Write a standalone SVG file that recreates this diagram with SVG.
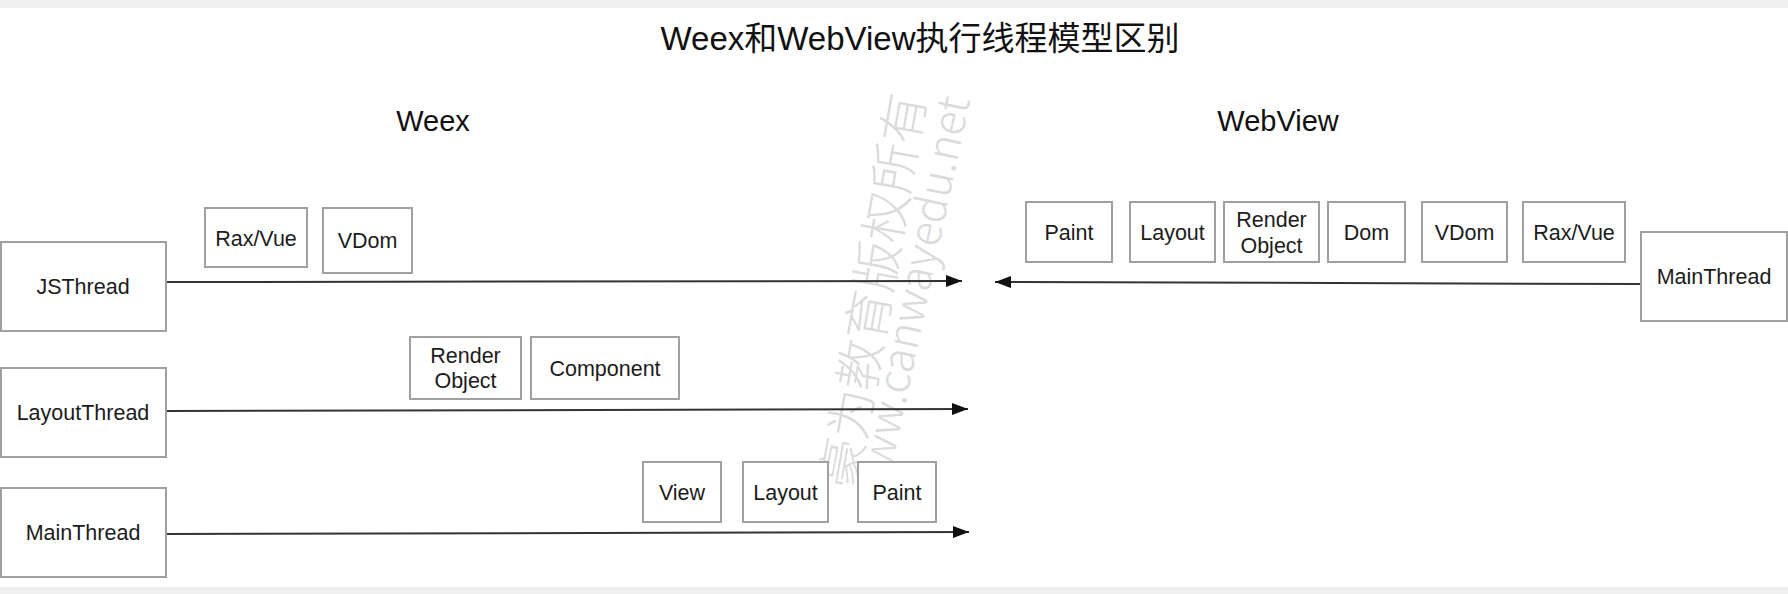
<svg xmlns="http://www.w3.org/2000/svg" width="1788" height="594" viewBox="0 0 1788 594">
<style>
  .box { fill: #ffffff; stroke: #a0a0a0; stroke-width: 2; }
  .lbl { font-family: "Liberation Sans", Arial, "Noto Sans CJK SC", sans-serif; font-size: 21.5px; fill: #1c1c1c; text-anchor: middle; }
  .head { font-family: "Liberation Sans", Arial, "Noto Sans CJK SC", sans-serif; fill: #111; text-anchor: middle; }
  .flow { stroke: #333; stroke-width: 2; fill: none; marker-end: url(#arrow); }
  .wm { font-family: "Noto Sans CJK SC", "Noto Sans", sans-serif; fill: #d8d8d8; text-anchor: middle; font-weight: 300; }
</style>
<defs>
  <marker id="arrow" viewBox="0 0 16 12" refX="16" refY="6" markerWidth="16" markerHeight="12" markerUnits="userSpaceOnUse" orient="auto">
    <path d="M0,0 L16,6 L0,12 Z" fill="#111"/>
  </marker>
</defs>
<rect x="0" y="0" width="1788" height="594" fill="#ffffff"/>
<rect x="0" y="0" width="1788" height="8" fill="#f0f0f0"/>
<rect x="0" y="587" width="1788" height="7" fill="#f0f0f0"/>

<text class="head" x="920" y="50" font-size="33">Weex和WebView执行线程模型区别</text>
<text class="head" x="433" y="131" font-size="29">Weex</text>
<text class="head" x="1278" y="131" font-size="29">WebView</text>

<g id="watermark" opacity="0.9">
  <text class="wm" font-size="50" transform="translate(891,294) rotate(-80)">豪为教育版权所有</text>
  <text class="wm" font-size="44" transform="translate(927,302) rotate(-78)">www.canwayedu.net</text>
</g>

<g id="connectors">
  <line class="flow" x1="166" y1="282" x2="962" y2="281"/>
  <line class="flow" x1="166" y1="411" x2="968" y2="409"/>
  <line class="flow" x1="166" y1="534" x2="969" y2="532"/>
  <line class="flow" x1="1641" y1="284" x2="995" y2="282"/>
</g>

<g id="weex-jsthread"><rect class="box" x="1" y="242" width="165" height="89"/><text class="lbl" x="83" y="294">JSThread</text></g>
<g id="weex-layoutthread"><rect class="box" x="1" y="368" width="165" height="89"/><text class="lbl" x="83" y="420">LayoutThread</text></g>
<g id="weex-mainthread"><rect class="box" x="1" y="488" width="165" height="89"/><text class="lbl" x="83" y="540">MainThread</text></g>
<g id="weex-raxvue"><rect class="box" x="205" y="208" width="102" height="59"/><text class="lbl" x="256" y="246">Rax/Vue</text></g>
<g id="weex-vdom"><rect class="box" x="323" y="208" width="89" height="65"/><text class="lbl" x="367.5" y="248">VDom</text></g>
<g id="weex-renderobject"><rect class="box" x="410" y="337" width="111" height="62"/><text class="lbl" x="465.5" y="363">Render</text><text class="lbl" x="465.5" y="388">Object</text></g>
<g id="weex-component"><rect class="box" x="531" y="337" width="148" height="62"/><text class="lbl" x="605" y="376">Component</text></g>
<g id="weex-view"><rect class="box" x="643" y="462" width="78" height="60"/><text class="lbl" x="682" y="500">View</text></g>
<g id="weex-layout"><rect class="box" x="743" y="462" width="85" height="60"/><text class="lbl" x="785.5" y="500">Layout</text></g>
<g id="weex-paint"><rect class="box" x="858" y="462" width="78" height="60"/><text class="lbl" x="897" y="500">Paint</text></g>

<g id="wv-paint"><rect class="box" x="1026" y="202" width="86" height="60"/><text class="lbl" x="1069" y="240">Paint</text></g>
<g id="wv-layout"><rect class="box" x="1130" y="202" width="85" height="60"/><text class="lbl" x="1172.5" y="240">Layout</text></g>
<g id="wv-renderobject"><rect class="box" x="1224" y="202" width="95" height="60"/><text class="lbl" x="1271.5" y="227">Render</text><text class="lbl" x="1271.5" y="253">Object</text></g>
<g id="wv-dom"><rect class="box" x="1328" y="202" width="77" height="60"/><text class="lbl" x="1366.5" y="240">Dom</text></g>
<g id="wv-vdom"><rect class="box" x="1422" y="202" width="85" height="60"/><text class="lbl" x="1464.5" y="240">VDom</text></g>
<g id="wv-raxvue"><rect class="box" x="1523" y="202" width="102" height="60"/><text class="lbl" x="1574" y="240">Rax/Vue</text></g>
<g id="wv-mainthread"><rect class="box" x="1641" y="232" width="146" height="89"/><text class="lbl" x="1714" y="284">MainThread</text></g>
</svg>
